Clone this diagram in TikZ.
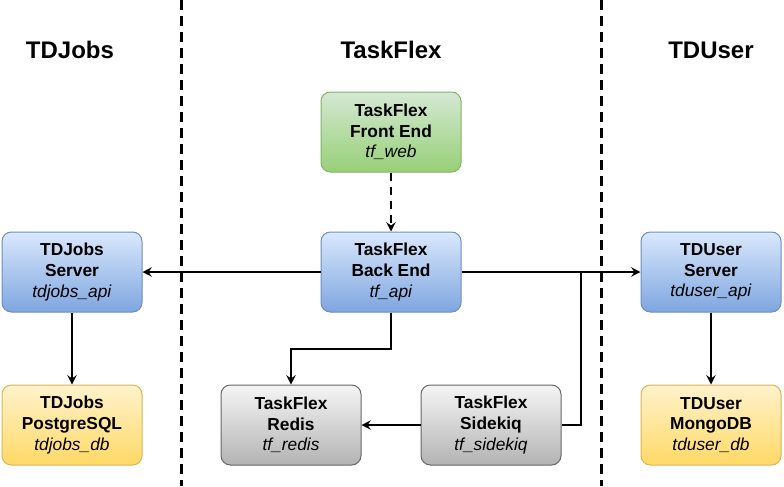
\documentclass[tikz,border=0pt]{standalone}
\usepackage{fontspec}
\setmainfont{Liberation Sans}
\usetikzlibrary{arrows.meta}

\begin{document}
\begin{tikzpicture}[x=0.75pt, y=-0.75pt,
  svc/.style={rectangle, rounded corners=7pt, line width=0.75pt, minimum width=105pt,
    minimum height=60pt, align=center, font=\fontsize{13}{15.5}\selectfont},
  webbox/.style={svc, draw={rgb,255:red,130;green,179;blue,102}, top color={rgb,255:red,213;green,232;blue,212}, bottom color={rgb,255:red,151;green,208;blue,119}},
  apibox/.style={svc, draw={rgb,255:red,108;green,142;blue,191}, top color={rgb,255:red,218;green,232;blue,252}, bottom color={rgb,255:red,126;green,166;blue,224}},
  dbbox/.style={svc, draw={rgb,255:red,214;green,182;blue,86}, top color={rgb,255:red,255;green,242;blue,204}, bottom color={rgb,255:red,255;green,217;blue,102}},
  workbox/.style={svc, draw={rgb,255:red,102;green,102;blue,102}, top color={rgb,255:red,245;green,245;blue,245}, bottom color={rgb,255:red,179;green,179;blue,179}},
  zone/.style={font=\fontsize{18}{21}\selectfont\bfseries},
  link/.style={line width=1.5pt, -{Stealth[length=7pt, width=7pt, inset=2.5pt]}},
  wire/.style={line width=1.5pt},
  divider/.style={line width=2.25pt, dash pattern=on 7.5pt off 4.5pt}]
\useasboundingbox (0,0) rectangle (784,486);

\node[zone] (jobs) at (70,50) {TDJobs};
\node[zone] (flex) at (391,50) {TaskFlex};
\node[zone] (user) at (711,50) {TDUser};

\coordinate (d1top) at (181,0);
\coordinate (d1bot) at (181,486);
\coordinate (d2top) at (601,0);
\coordinate (d2bot) at (601,486);
\draw[divider] (d1top) -- (d1bot);
\draw[divider] (d2top) -- (d2bot);

\node[webbox] (web) at (391,132) {\textbf{TaskFlex}\\\textbf{Front End}\\\textit{tf\_web}};
\node[apibox] (api) at (391,272) {\textbf{TaskFlex}\\\textbf{Back End}\\\textit{tf\_api}};
\node[apibox] (jsrv) at (72,272) {\textbf{TDJobs}\\\textbf{Server}\\\textit{tdjobs\_api}};
\node[dbbox] (jdb) at (72,425) {\textbf{TDJobs}\\\textbf{PostgreSQL}\\\textit{tdjobs\_db}};
\node[workbox] (redis) at (291,425) {\textbf{TaskFlex}\\\textbf{Redis}\\\textit{tf\_redis}};
\node[workbox] (sdk) at (491,425) {\textbf{TaskFlex}\\\textbf{Sidekiq}\\\textit{tf\_sidekiq}};
\node[apibox] (usrv) at (711,272) {\textbf{TDUser}\\\textbf{Server}\\\textit{tduser\_api}};
\node[dbbox] (udb) at (711,425) {\textbf{TDUser}\\\textbf{MongoDB}\\\textit{tduser\_db}};

\coordinate (kink) at (391,349);
\coordinate (joint) at (581,272);

\draw[link, line width=2pt, dash pattern=on 6pt off 4.5pt] (web) -- (api);
\draw[link] (api) -- (jsrv);
\draw[link] (api) -- (usrv);
\draw[link] (jsrv) -- (jdb);
\draw[link] (usrv) -- (udb);
\draw[link] (api.south) -- (kink) -| (redis.north);
\draw[link] (sdk) -- (redis);
\draw[wire] (sdk.east) -| (joint);
\end{tikzpicture}
\end{document}
